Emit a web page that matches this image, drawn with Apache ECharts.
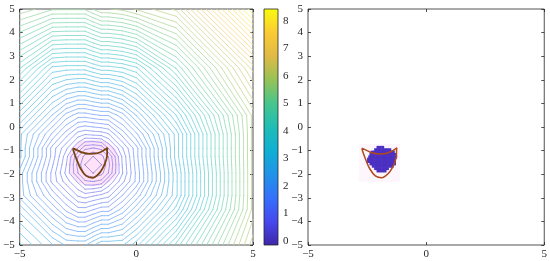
<!DOCTYPE html>
<html><head><meta charset="utf-8">
<script src="https://cdn.jsdelivr.net/npm/echarts@6/dist/echarts.min.js"></script>
<style>html,body{margin:0;padding:0;background:#fff}#c{width:550px;height:261px}</style>
</head><body><div id="c"></div>
<script>
// ---- data ----
const gridX = [-5, -3.6, -3, -2.5, -2.2, -1.85, -1.5, -1.2, -0.6, 0, 1.7, 5];
const gridY = [-5, -3.5, -2.9, -2.3, -1.95, -1.6, -1.25, -0.9, -0.3, 0.5, 2.5, 5];
const gridZ = [
  [3.10,2.62,2.43,2.43,2.43,2.59,2.74,2.74,2.74,3.01,4.03,6.23],
  [2.56,1.81,1.49,1.29,1.29,1.38,1.47,1.47,1.74,2.10,3.13,5.88],
  [2.24,1.49,1.17,0.90,0.84,0.90,0.96,1.02,1.38,1.74,2.87,5.88],
  [2.24,1.18,0.84,0.58,0.33,0.30,0.35,0.62,1.02,1.42,2.87,5.88],
  [2.24,1.18,0.72,0.31,0.10,0.00,0.10,0.31,0.91,1.42,2.87,5.88],
  [2.37,1.25,0.77,0.25,0.00,-0.15,0.00,0.25,0.93,1.45,2.92,5.88],
  [2.50,1.32,0.82,0.31,0.10,0.00,0.10,0.31,0.95,1.48,2.97,5.88],
  [2.50,1.32,0.95,0.60,0.35,0.30,0.35,0.62,1.06,1.48,2.97,5.88],
  [2.50,1.66,1.30,1.01,0.94,0.97,0.99,1.06,1.44,1.81,2.97,5.88],
  [2.97,2.14,1.78,1.61,1.61,1.66,1.70,1.70,1.93,2.31,3.37,5.88],
  [4.16,3.33,3.29,3.29,3.29,3.38,3.46,3.46,3.52,3.65,4.61,6.66],
  [5.64,5.39,5.39,5.39,5.39,5.53,5.66,5.66,5.72,5.85,6.17,8.43]
];
const cbMin = -0.15, cbMax = 8.43;
const levelCount = 55;
const xTicks = [-5, 0, 5];
const yTicks = [-5, -4, -3, -2, -1, 0, 1, 2, 3, 4, 5];
const cbTicks = [0, 1, 2, 3, 4, 5, 6, 7, 8];

const curveX = [-2.72,-2.5,-2.3,-2.0,-1.7,-1.5,-1.33,-1.24,-1.25,-1.26,-1.33,-1.43,-1.6,-1.88,-2.15,-2.38,-2.55,-2.68,-2.72];
const curveY = [-0.90,-1.0,-1.09,-1.14,-1.12,-1.05,-0.95,-0.88,-0.95,-1.25,-1.5,-1.72,-1.97,-2.15,-2.07,-1.78,-1.4,-1.05,-0.90];

const blobRowY =  [-0.85,-0.95,-1.05,-1.15,-1.25,-1.35,-1.45,-1.55,-1.65,-1.75,-1.85];
const blobRowX0 = [-2.05,-2.15,-2.30,-2.35,-2.40,-2.45,-2.45,-2.35,-2.25,-2.15,-2.05];
const blobRowX1 = [-1.85,-1.55,-1.35,-1.30,-1.30,-1.30,-1.30,-1.35,-1.45,-1.60,-1.75];
const blobCell = 0.1;

const haloLeftX = [-2.9,-2.6,-1.85,-1.0,-0.75,-1.0,-1.85,-2.65];
const haloLeftY = [-1.5,-0.75,-0.55,-0.8,-1.5,-2.2,-2.5,-2.2];
const haloRightX = [-2.85,-1.1,-1.1,-2.85];
const haloRightY = [-0.72,-0.72,-2.33,-2.33];

// ---- colormap ----
const parulaStops = [[0,'#3E26A8'],[0.1,'#4748EE'],[0.2,'#3570FB'],[0.3,'#2193E8'],[0.4,'#10AFD4'],[0.5,'#1FBDB5'],[0.6,'#48C58C'],[0.7,'#97C256'],[0.8,'#E0BA45'],[0.9,'#FBCB35'],[1,'#F9FB0E']];
function hex2rgb(h){return [parseInt(h.substr(1,2),16),parseInt(h.substr(3,2),16),parseInt(h.substr(5,2),16)];}
function parula(t){
  t=Math.max(0,Math.min(1,t));
  for(let k=0;k<parulaStops.length-1;k++){
    const a=parulaStops[k],b=parulaStops[k+1];
    if(t<=b[0]){const f=(t-a[0])/(b[0]-a[0]);const ca=hex2rgb(a[1]),cb=hex2rgb(b[1]);
      return [0,1,2].map(i=>ca[i]+(cb[i]-ca[i])*f);}
  }
  return hex2rgb(parulaStops[parulaStops.length-1][1]);
}
function lineColor(v){const c=parula((v-cbMin)/(cbMax-cbMin));const m=0.42;
  return 'rgb('+c.map(x=>Math.round(x*(1-m)+255*m)).join(',')+')';}

// ---- contours (marching squares over the grid) ----
function contourSegments(xs, ys, z, level){
  const segs=[];
  for(let j=0;j<ys.length-1;j++)for(let i=0;i<xs.length-1;i++){
    const c=[[xs[i],ys[j],z[j][i]],[xs[i+1],ys[j],z[j][i+1]],[xs[i+1],ys[j+1],z[j+1][i+1]],[xs[i],ys[j+1],z[j+1][i]]];
    const pts=[];
    for(let k=0;k<4;k++){const a=c[k],b=c[(k+1)%4];
      if((a[2]<level)!==(b[2]<level)){const t=(level-a[2])/(b[2]-a[2]);pts.push([a[0]+t*(b[0]-a[0]),a[1]+t*(b[1]-a[1])]);}}
    if(pts.length===2)segs.push([pts[0],pts[1]]);
    else if(pts.length===4){const cv=(c[0][2]+c[1][2]+c[2][2]+c[3][2])/4;
      if((cv<level)===(c[0][2]<level)){segs.push([pts[0],pts[1]]);segs.push([pts[2],pts[3]]);}
      else{segs.push([pts[3],pts[0]]);segs.push([pts[1],pts[2]]);}}
  }
  return segs;
}
const contourData=[];
const lstep=(cbMax-cbMin)/(levelCount+1);
for(let k=1;k<=levelCount;k++){
  const lv=cbMin+k*lstep;
  contourSegments(gridX,gridY,gridZ,lv).forEach(s=>contourData.push([s[0][0],s[0][1],s[1][0],s[1][1],lv]));
}

const blobData=[];
blobRowY.forEach((y,r)=>{for(let x=blobRowX0[r];x<=blobRowX1[r]+1e-6;x+=blobCell)blobData.push([x,y]);});
const curveData=curveX.map((x,i)=>[x,curveY[i]]);

// ---- chart ----
const fontFam='"Liberation Serif", "DejaVu Serif", serif';
const txt='#262626';
const fmt=v=>v<0?'\u2212'+Math.abs(v):String(v);
function xAx(g,pos,labels){return {type:'value',gridIndex:g,position:pos,min:-5,max:5,interval:5,
  axisLine:{show:false,onZero:false},splitLine:{show:false},
  axisTick:{show:true,inside:true,length:3,lineStyle:{color:txt,width:0.8}},
  axisLabel:{show:labels,formatter:fmt,fontFamily:fontFam,fontSize:11,color:txt,margin:4}};}
function yAx(g,pos,labels){return {type:'value',gridIndex:g,position:pos,min:-5,max:5,interval:1,
  axisLine:{show:false,onZero:false},splitLine:{show:false},
  axisTick:{show:true,inside:true,length:3,lineStyle:{color:txt,width:0.8}},
  axisLabel:{show:labels,formatter:fmt,fontFamily:fontFam,fontSize:11,color:txt,margin:5}};}

function polygonSeries(xA,yA,xs,ys,fill){
  return {type:'custom',xAxisIndex:xA,yAxisIndex:yA,clip:true,silent:true,z:1,
    data:[[xs[0],ys[0]]],
    renderItem:(p,api)=>({type:'polygon',shape:{points:xs.map((x,i)=>api.coord([x,ys[i]])),smooth:xs.length>4?0.4:0},style:{fill:fill}})};
}

const chart=echarts.init(document.getElementById('c'),null,{renderer:'canvas'});
chart.setOption({
  animation:false,
  grid:[
    {left:17,top:9,width:236,height:236,show:true,borderColor:txt,borderWidth:0.8,backgroundColor:'transparent'},
    {left:264,top:9+(cbMax-8)*236/(cbMax-cbMin),width:14,height:8*236/(cbMax-cbMin),show:false},
    {left:308,top:9,width:237,height:236,show:true,borderColor:txt,borderWidth:0.8,backgroundColor:'transparent'}
  ],
  xAxis:[
    xAx(0,'bottom',true), xAx(0,'top',false),
    {type:'value',gridIndex:1,min:0,max:1,show:false},
    xAx(2,'bottom',true), xAx(2,'top',false)
  ],
  yAxis:[
    yAx(0,'left',true), yAx(0,'right',false),
    {type:'value',gridIndex:1,position:'right',min:0,max:8,interval:1,
     axisLine:{show:false,onZero:false},splitLine:{show:false},
     axisTick:{show:true,inside:true,length:3,lineStyle:{color:txt,width:0.8}},
     axisLabel:{formatter:fmt,fontFamily:fontFam,fontSize:11,color:txt,margin:5}},
    yAx(2,'left',true), yAx(2,'right',false)
  ],
  series:[
    polygonSeries(0,0,haloLeftX,haloLeftY,'rgba(255,150,225,0.28)'),
    {type:'custom',xAxisIndex:0,yAxisIndex:0,clip:true,silent:true,z:2,
     encode:{x:[0,2],y:[1,3]},data:contourData,
     renderItem:(p,api)=>{const a=api.coord([api.value(0),api.value(1)]),b=api.coord([api.value(2),api.value(3)]);
       return {type:'line',shape:{x1:a[0],y1:a[1],x2:b[0],y2:b[1]},style:{stroke:lineColor(api.value(4)),lineWidth:0.85,lineCap:'round'}};}},
    {type:'line',xAxisIndex:0,yAxisIndex:0,data:curveData,smooth:0.35,symbol:'none',z:5,
     lineStyle:{color:'#7A4410',width:1.8}},
    {type:'custom',xAxisIndex:2,yAxisIndex:2,clip:false,silent:true,z:3,
     data:[[0,cbMin,1,cbMax]],
     renderItem:(p,api)=>{const a=api.coord([0,cbMax]),b=api.coord([1,cbMin]);
       return {type:'rect',shape:{x:a[0],y:a[1],width:b[0]-a[0],height:b[1]-a[1]},
         style:{fill:new echarts.graphic.LinearGradient(0,1,0,0,parulaStops.map(s=>({offset:s[0],color:s[1]}))),stroke:txt,lineWidth:0.8}};}},
    polygonSeries(3,3,haloRightX,haloRightY,'rgba(250,185,240,0.13)'),
    {type:'custom',xAxisIndex:3,yAxisIndex:3,clip:true,silent:true,z:3,
     data:blobData,
     renderItem:(p,api)=>{const a=api.coord([api.value(0)-blobCell/2,api.value(1)+blobCell/2]);const s=api.size([blobCell,blobCell]);
       return {type:'rect',shape:{x:a[0],y:a[1],width:s[0]+0.6,height:s[1]+0.6},style:{fill:'#4B30C2'}};}},
    {type:'line',xAxisIndex:3,yAxisIndex:3,data:curveData,smooth:0.35,symbol:'none',z:5,
     lineStyle:{color:'#B04A1C',width:1.5}}
  ]
});
</script></body></html>
